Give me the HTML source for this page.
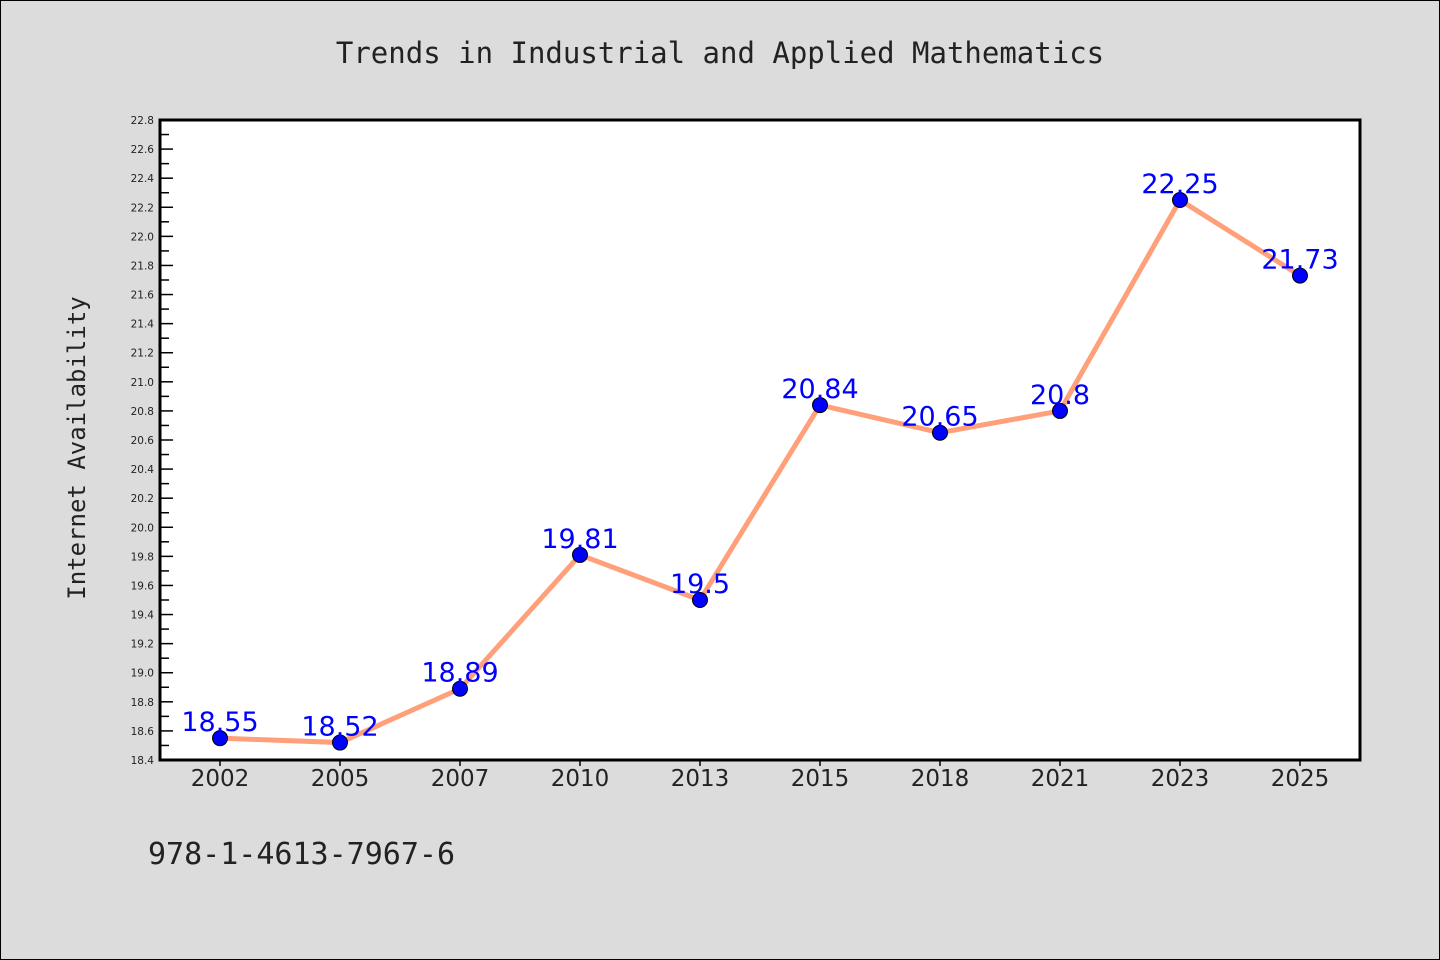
<!DOCTYPE html>
<html><head><meta charset="utf-8"><style>
body{margin:0;background:#dcdcdc}
svg{display:block}
</style></head><body>
<svg width="1440" height="960" xmlns="http://www.w3.org/2000/svg">
<rect x="0.5" y="0.5" width="1439" height="959" fill="#dcdcdc" stroke="#000"/>
<text x="720" y="63" text-anchor="middle" font-family="'DejaVu Sans Mono','Liberation Mono',monospace" font-size="29" fill="#222">Trends in Industrial and Applied Mathematics</text>
<rect x="160" y="120" width="1200" height="640" fill="#fff"/>
<g id="axes"></g>
<g id="marks"></g>
<rect x="160" y="120" width="1200" height="640" fill="none" stroke="#000" stroke-width="3"/>
<text transform="translate(85,448) rotate(-90)" text-anchor="middle" font-family="'DejaVu Sans Mono','Liberation Mono',monospace" font-size="24" fill="#222">Internet Availability</text>
<text x="148" y="864" font-family="'DejaVu Sans Mono','Liberation Mono',monospace" font-size="30" fill="#222">978-1-4613-7967-6</text>
</svg>
<script>
const categories=["2002","2005","2007","2010","2013","2015","2018","2021","2023","2025"];
const values=[18.55,18.52,18.89,19.81,19.5,20.84,20.65,20.8,22.25,21.73];
const labels=["18.55","18.52","18.89","19.81","19.5","20.84","20.65","20.8","22.25","21.73"];
const yMin=18.4,yMax=22.8;
const NS="http://www.w3.org/2000/svg";
const L=160,T=120,W=1200,H=640;
const x=i=>L+W/categories.length*(i+0.5);
const y=v=>T+H-(v-yMin)/(yMax-yMin)*H;
const axes=document.getElementById('axes'),marks=document.getElementById('marks');
function mk(t,a,p){const e=document.createElementNS(NS,t);for(const k in a)e.setAttribute(k,a[k]);p.appendChild(e);return e;}
for(let k=0;k<=44;k++){
  const v=yMin+k*0.1,yy=y(v),major=k%2===0;
  const t=mk('line',{x1:L,x2:L+(major?13:9),y1:yy,y2:yy,stroke:'#000','stroke-width':1.5},axes);
  
  
  if(major){
    const tx=mk('text',{x:L-6,y:yy+4,'text-anchor':'end','font-family':'DejaVu Sans, sans-serif','font-size':10.5,fill:'#222'},axes);
    tx.textContent=v.toFixed(1);
    
    
  }
}
categories.forEach((c,i)=>{
  const t=mk('line',{x1:x(i),x2:x(i),y1:T+H,y2:T+H+6,stroke:'#000','stroke-width':1.5},axes);
  
  
  const tx=mk('text',{x:x(i),y:T+H+26,'text-anchor':'middle','font-family':'DejaVu Sans, sans-serif','font-size':23,fill:'#222'},axes);
  tx.textContent=c;
  
  
});
const pl=mk('polyline',{points:values.map((v,i)=>x(i)+','+y(v)).join(' '),fill:'none',stroke:'#ffa07a','stroke-width':5},marks);


values.forEach((v,i)=>{
  const c=mk('circle',{cx:x(i),cy:y(v),r:7.5,fill:'#0000ff',stroke:'#000','stroke-width':1},marks);
  
  
  const t=mk('text',{x:x(i),y:y(v)-7,'text-anchor':'middle','font-family':'DejaVu Sans, sans-serif','font-size':27,fill:'#0000ff'},marks);
  t.textContent=labels[i];
  
  
});
</script>
</body></html>
